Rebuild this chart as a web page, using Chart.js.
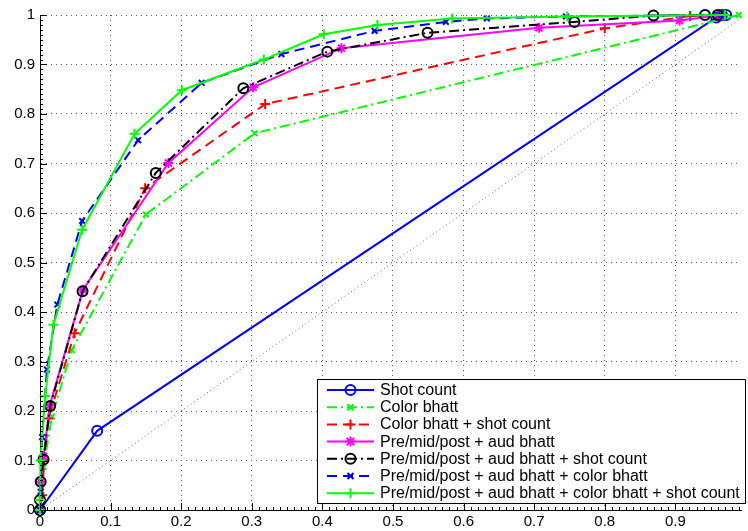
<!DOCTYPE html>
<html>
<head>
<meta charset="utf-8">
<script src="https://cdn.jsdelivr.net/npm/chart.js@4.4.1/dist/chart.umd.min.js"></script>
<style>
  html, body { margin: 0; padding: 0; background: #fff; }
  #wrap { width: 748px; height: 531px; position: relative; }
</style>
</head>
<body>
<div id="wrap"><canvas id="roc"></canvas></div>
<script>
// ROC-like curves, values
const xTicks = [0, 0.1, 0.2, 0.3, 0.4, 0.5, 0.6, 0.7, 0.8, 0.9];
const yTicks = [0, 0.1, 0.2, 0.3, 0.4, 0.5, 0.6, 0.7, 0.8, 0.9, 1];

const labels = [
  "Shot count",
  "Color bhatt",
  "Color bhatt + shot count",
  "Pre/mid/post + aud bhatt",
  "Pre/mid/post + aud bhatt + shot count",
  "Pre/mid/post + aud bhatt + color bhatt",
  "Pre/mid/post + aud bhatt + color bhatt + shot count"
];

const shotX = [0, 0.081, 0.958, 0.966, 0.972];
const shotY = [0, 0.16, 0.995, 1, 1];

const colorX = [0, 0.002, 0.005, 0.017, 0.045, 0.15, 0.304, 0.99];
const colorY = [0, 0.03, 0.087, 0.189, 0.323, 0.597, 0.761, 1];

const colorShotX = [0, 0.003, 0.006, 0.012, 0.049, 0.149, 0.319, 0.8, 0.921, 0.96, 0.97];
const colorShotY = [0, 0.03, 0.1, 0.185, 0.357, 0.65, 0.82, 0.973, 0.998, 1, 1];

const pmpX = [0, 0.001, 0.005, 0.014, 0.061, 0.182, 0.302, 0.427, 0.707, 0.906, 0.965];
const pmpY = [0, 0.057, 0.108, 0.212, 0.445, 0.701, 0.854, 0.933, 0.974, 0.989, 1];

const pmpShotX = [0, 0, 0.001, 0.005, 0.0144, 0.0603, 0.164, 0.288, 0.407, 0.549, 0.757, 0.869, 0.942, 0.96];
const pmpShotY = [0, 0.02, 0.057, 0.102, 0.21, 0.442, 0.681, 0.852, 0.926, 0.964, 0.986, 0.999, 1, 1];

const pmpColorX = [0, 0.001, 0.003, 0.0098, 0.0245, 0.0597, 0.139, 0.229, 0.342, 0.474, 0.575, 0.633, 0.745, 0.965];
const pmpColorY = [0, 0.037, 0.147, 0.284, 0.415, 0.584, 0.747, 0.863, 0.921, 0.968, 0.986, 0.993, 0.997, 1];

const allX = [0, 0, 0.001, 0.0074, 0.019, 0.0597, 0.134, 0.201, 0.317, 0.402, 0.478, 0.584, 0.747, 0.97];
const allY = [0, 0.02, 0.1, 0.23, 0.374, 0.566, 0.76, 0.848, 0.91, 0.961, 0.98, 0.993, 0.997, 1];

const diagX = [0, 1];
const diagY = [0, 1];

const FONT = "'Liberation Sans', Arial, Helvetica, sans-serif";
const pts = (xs, ys) => xs.map((x, i) => ({ x: x, y: ys[i] }));

function series(i, xs, ys, color, dash, marker, size) {
  return {
    label: labels[i],
    data: pts(xs, ys),
    showLine: true,
    borderColor: color,
    borderWidth: 2,
    borderDash: dash,
    pointStyle: marker,
    pointRadius: size,
    pointBorderColor: color,
    pointBackgroundColor: "rgba(0,0,0,0)",
    pointBorderWidth: 2,
    order: 7 - i,
    clip: false
  };
}

const datasets = [
  series(0, shotX, shotY, "#0000ff", [], "circle", 5),
  series(1, colorX, colorY, "#00ff00", [10, 4, 2, 4], "crossRot", 4),
  series(2, colorShotX, colorShotY, "#ff0000", [10, 6], "cross", 5),
  series(3, pmpX, pmpY, "#ff00ff", [], "star", 5),
  series(4, pmpShotX, pmpShotY, "#000000", [10, 4, 2, 4], "circle", 5),
  series(5, pmpColorX, pmpColorY, "#0000ff", [10, 6], "crossRot", 4),
  series(6, allX, allY, "#00ff00", [], "cross", 5),
  {
    label: "diag",
    data: pts(diagX, diagY),
    showLine: true,
    borderColor: "#666",
    borderWidth: 1,
    borderDash: [1, 3],
    pointRadius: 0,
    order: 20
  }
];

function marker(ctx, style, r, x, y) {
  ctx.beginPath();
  if (style === "circle") {
    ctx.arc(x, y, r, 0, Math.PI * 2);
  } else if (style === "cross" || style === "star") {
    ctx.moveTo(x - r, y); ctx.lineTo(x + r, y);
    ctx.moveTo(x, y - r); ctx.lineTo(x, y + r);
  }
  if (style === "crossRot" || style === "star") {
    const d = r * 0.75;
    ctx.moveTo(x - d, y - d); ctx.lineTo(x + d, y + d);
    ctx.moveTo(x - d, y + d); ctx.lineTo(x + d, y - d);
  }
  ctx.stroke();
}

// MATLAB style legend box in the lower right corner
const boxLegend = {
  id: "boxLegend",
  afterDraw(chart) {
    const ctx = chart.ctx;
    const left = 317, top = 379, right = 745, bottom = 503;
    ctx.save();
    ctx.fillStyle = "#fff";
    ctx.fillRect(left, top, right - left, bottom - top);
    ctx.strokeStyle = "#000";
    ctx.lineWidth = 1;
    ctx.strokeRect(left + 0.5, top + 0.5, right - left, bottom - top);
    ctx.font = "16px " + FONT;
    ctx.textBaseline = "middle";
    for (let i = 0; i < 7; i++) {
      const ds = chart.data.datasets[i];
      const y = 390 + i * 17.2;
      ctx.strokeStyle = ds.borderColor;
      ctx.lineWidth = ds.borderWidth;
      ctx.setLineDash(ds.borderDash);
      ctx.beginPath();
      ctx.moveTo(327, y);
      ctx.lineTo(374, y);
      ctx.stroke();
      ctx.setLineDash([]);
      marker(ctx, ds.pointStyle, ds.pointRadius, 350.5, y);
      ctx.fillStyle = "#000";
      ctx.fillText(ds.label, 380, y + 0.5);
    }
    ctx.restore();
  }
};

// inward major and minor tick marks
const inTicks = {
  id: "inTicks",
  afterDraw(chart) {
    const { ctx, chartArea: a, scales: { x, y } } = chart;
    ctx.save();
    ctx.strokeStyle = "#000";
    ctx.lineWidth = 1;
    ctx.beginPath();
    for (let k = 0; k <= 99; k++) {
      const v = k / 100;
      const len = k % 10 === 0 ? 7 : 3;
      const px = Math.round(x.getPixelForValue(v)) + 0.5;
      ctx.moveTo(px, a.bottom);
      ctx.lineTo(px, a.bottom - len);
    }
    for (let k = 0; k <= 100; k++) {
      const v = k / 100;
      const len = k % 10 === 0 ? 7 : 3;
      const py = Math.round(y.getPixelForValue(v)) + 0.5;
      ctx.moveTo(a.left, py);
      ctx.lineTo(a.left + len, py);
    }
    ctx.stroke();
    ctx.restore();
  }
};

const fmt = v => String(+(+v).toFixed(1));

new Chart(document.getElementById("roc"), {
  type: "scatter",
  data: { datasets },
  options: {
    responsive: true,
    maintainAspectRatio: false,
    animation: false,
    layout: { padding: { top: 15, right: 0, left: 0, bottom: 0 } },
    plugins: {
      legend: { display: false },
      tooltip: { enabled: false }
    },
    elements: { line: { tension: 0 } },
    scales: {
      x: {
        type: "linear",
        min: 0,
        max: 0.993,
        afterBuildTicks: s => { s.ticks = xTicks.map(v => ({ value: v })); },
        afterFit: s => { s.height = 21; },
        ticks: { callback: fmt, color: "#000", font: { family: FONT, size: 15 }, padding: 3, maxRotation: 0, autoSkip: false },
        grid: { color: "#555", lineWidth: 1, drawTicks: false },
        border: { color: "#000", width: 1, dash: [1, 4] }
      },
      y: {
        type: "linear",
        min: 0,
        max: 1,
        afterBuildTicks: s => { s.ticks = yTicks.map(v => ({ value: v })); },
        afterFit: s => { s.width = 40; },
        ticks: { callback: fmt, color: "#000", font: { family: FONT, size: 15 }, padding: 5 },
        grid: { color: "#555", lineWidth: 1, drawTicks: false },
        border: { color: "#000", width: 1, dash: [1, 4] }
      }
    }
  },
  plugins: [inTicks, boxLegend]
});
</script>
</body>
</html>
